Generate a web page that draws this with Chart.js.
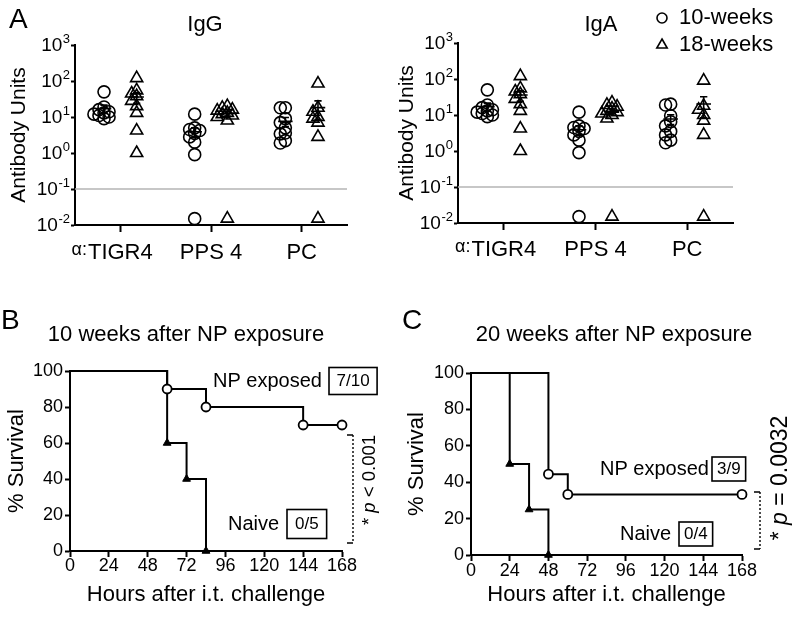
<!DOCTYPE html>
<html>
<head>
<meta charset="utf-8">
<script src="https://cdn.jsdelivr.net/npm/chart.js@4.4.0/dist/chart.umd.min.js"></script>
<style>
  body { margin: 0; background: #fff; width: 800px; height: 620px; position: relative; overflow: hidden; }
  canvas { position: absolute; }
</style>
</head>
<body>
<canvas id="igg" width="390" height="300" style="left:0;top:0"></canvas>
<canvas id="iga" width="410" height="300" style="left:390px;top:0"></canvas>
<canvas id="surv10" width="400" height="310" style="left:0;top:310px"></canvas>
<canvas id="surv20" width="400" height="310" style="left:400px;top:310px"></canvas>
<script>
const FONT = "'Liberation Sans', Arial, Helvetica, sans-serif"
Chart.defaults.font.family = FONT
Chart.defaults.color = '#000'

// ---- Panel A: antibody units per antigen ----
const categories = ['TIGR4', 'PPS 4', 'PC']
const yDecades = [0.01, 0.1, 1, 10, 100, 1000]
const yTickBase = '10'
const yTickExponents = ['-2', '-1', '0', '1', '2', '3']
const detectionLimit = 0.1

// one inner array per antigen (TIGR4, PPS 4, PC)
const iggWeek10 = [
    [50, 19, 16, 14, 13, 12, 11, 10, 9],
    [12, 5, 4.5, 4.2, 3.5, 2.8, 2, 0.9, 0.015],
    [18, 18, 9, 7, 5, 3.6, 3.4, 2.2, 1.9]
]
const iggWeek18 = [
    [120, 55, 45, 38, 28, 20, 13, 4.2, 1.0],
    [20, 18, 16, 15, 13, 12, 11, 10, 8, 0.015],
    [85, 18, 14, 10, 9, 7, 2.8, 0.015]
]
const igaWeek10 = [
    [50, 19, 16, 14, 13, 12, 11, 10, 9],
    [12, 5, 4.5, 4.2, 3.5, 2.8, 2, 0.9, 0.015],
    [20, 19, 9.5, 6.5, 5, 3.5, 2.8, 2.0, 1.7]
]
const igaWeek18 = [
    [120, 55, 45, 38, 28, 20, 13, 4.2, 1.0],
    [22, 19, 17, 15, 13, 12, 11, 10, 8, 0.015],
    [90, 18, 14, 10, 7, 2.8, 0.015]
]
const groupLabels = ['10-weeks', '18-weeks']

// ---- Panels B and C: survival after challenge ----
const hourStep = 24
const b10ExposedHours = [0, 60, 84, 144, 168]
const b10ExposedSurvival = [100, 90, 80, 70, 70]
const b10NaiveHours = [0, 60, 72, 84]
const b10NaiveSurvival = [100, 60, 40, 0]
const c20ExposedHours = [0, 48, 60, 168]
const c20ExposedSurvival = [100, 44.4, 33.3, 33.3]
const c20NaiveHours = [0, 24, 36, 48]
const c20NaiveSurvival = [100, 50, 25, 0]

// ---------------------------------------------------------------

function drawText(ctx, str, x, y, size, align, baseline, style) {
    ctx.font = (style || '') + ' ' + size + 'px ' + FONT
    ctx.textAlign = align || 'left'
    ctx.textBaseline = baseline || 'middle'
    ctx.fillStyle = '#000'
    ctx.fillText(str, x, y)
}

// spread points sideways (column scatter) so the markers do not sit on top of each other
function swarm(values, center) {
    const pxPerUnit = 90, pxPerDecade = 36, minDist = 5, step = 5
    const placed = []
    return values.map(v => {
        const ly = Math.log10(v) * pxPerDecade
        let best = 0, bestGap = -1
        for (const k of [0, -1, 1, -2, 2]) {
            const px = k * step
            const gap = Math.min(Infinity, ...placed.map(p => Math.hypot(p.px - px, p.ly - ly)))
            if (gap >= minDist) { best = px; break }
            if (gap > bestGap) { bestGap = gap; best = px }
        }
        placed.push({ px: best, ly: ly })
        return { x: center + best / pxPerUnit, y: v }
    })
}

function meanSem(values) {
    const n = values.length
    const mean = values.reduce((a, b) => a + b, 0) / n
    const sd = Math.sqrt(values.reduce((a, b) => a + (b - mean) ** 2, 0) / (n - 1))
    return { mean: mean, sem: sd / Math.sqrt(n) }
}

// mean line with SEM whiskers as one polyline
function meanBar(values, c) {
    const { mean, sem } = meanSem(values)
    const hi = mean + sem, lo = Math.max(mean - sem, 0.012)
    const w = 0.08, cap = 0.04
    return [
        { x: c - cap, y: hi }, { x: c + cap, y: hi }, { x: c, y: hi }, { x: c, y: lo },
        { x: c - cap, y: lo }, { x: c + cap, y: lo }, { x: c, y: lo }, { x: c, y: mean },
        { x: c - w, y: mean }, { x: c + w, y: mean }
    ]
}

function antibodyChart(id, title, week10, week18, lay) {
    const datasets = []
    const shift = 0.18
    week10.forEach((vals, i) => {
        datasets.push({
            label: groupLabels[0], data: swarm(vals, i + 0.5 - shift),
            pointStyle: 'circle', pointRadius: 6, borderColor: '#000', backgroundColor: 'rgba(0,0,0,0)',
            pointBorderWidth: 1.6, clip: false
        })
        datasets.push({
            data: meanBar(vals, i + 0.5 - shift), showLine: true, pointRadius: 0,
            borderColor: '#000', borderWidth: 1.6, clip: false
        })
    })
    week18.forEach((vals, i) => {
        datasets.push({
            label: groupLabels[1], data: swarm(vals, i + 0.5 + shift),
            pointStyle: 'triangle', pointRadius: 7, borderColor: '#000', backgroundColor: 'rgba(0,0,0,0)',
            pointBorderWidth: 1.6, clip: false
        })
        datasets.push({
            data: meanBar(vals, i + 0.5 + shift), showLine: true, pointRadius: 0,
            borderColor: '#000', borderWidth: 1.6, clip: false
        })
    })
    // limit of detection
    datasets.push({
        data: [{ x: 0, y: detectionLimit }, { x: categories.length, y: detectionLimit }],
        showLine: true, pointRadius: 0, borderColor: '#b4b4b4', borderWidth: 1.3
    })

    const annot = {
        id: 'annot',
        afterDraw(chart) {
            const { ctx, chartArea } = chart
            const x = chart.scales.x, y = chart.scales.y
            if (lay.letter) drawText(ctx, lay.letter, 9, 28, 28, 'left', 'alphabetic')
            drawText(ctx, title, lay.titleX, 25, 22, 'center')

            // y tick labels as 10 with a raised exponent
            const xr = chartArea.left - 5
            y.ticks.forEach((t, i) => {
                const py = y.getPixelForValue(t.value)
                ctx.font = '13px ' + FONT
                const ew = ctx.measureText(yTickExponents[i]).width
                drawText(ctx, yTickExponents[i], xr - ew, py - 6, 13, 'left')
                drawText(ctx, yTickBase, xr - ew - 0.5, py + 1, 19, 'right')
            })

            // "α:" prefix in front of the first antigen label
            ctx.font = '22px ' + FONT
            const w = ctx.measureText(categories[0]).width
            const left = x.getPixelForValue(0.5) - w / 2
            drawText(ctx, 'α:', left - 1, lay.labelY - 3, 18, 'right', 'middle')

            if (lay.legend) {
                ctx.strokeStyle = '#000'
                ctx.lineWidth = 1.6
                const lx = lay.legend.x
                ctx.beginPath()
                ctx.arc(lx, 18, 5, 0, Math.PI * 2)
                ctx.stroke()
                const r = 6, ty = 45
                ctx.beginPath()
                ctx.moveTo(lx, ty - r)
                ctx.lineTo(lx + r * 0.866, ty + r * 0.5)
                ctx.lineTo(lx - r * 0.866, ty + r * 0.5)
                ctx.closePath()
                ctx.stroke()
                drawText(ctx, groupLabels[0], lx + 17, 18, 22, 'left')
                drawText(ctx, groupLabels[1], lx + 17, 45, 22, 'left')
            }
        }
    }

    new Chart(document.getElementById(id), {
        type: 'scatter',
        data: { datasets: datasets },
        options: {
            responsive: false,
            animation: false,
            layout: { padding: { left: 0, right: lay.padRight, top: lay.top, bottom: 0 } },
            plugins: { legend: { display: false }, tooltip: { enabled: false } },
            scales: {
                x: {
                    type: 'linear', min: 0, max: categories.length,
                    afterBuildTicks: s => { s.ticks = categories.map((c, i) => ({ value: i + 0.5 })) },
                    afterFit: s => { s.height = lay.xHeight },
                    ticks: {
                        font: { size: 22, lineHeight: 1 }, padding: lay.xPad, maxRotation: 0,
                        callback: (v) => categories[Math.floor(v)]
                    },
                    grid: { drawOnChartArea: false, tickLength: 7, tickWidth: 2, tickColor: '#000' },
                    border: { color: '#000', width: 2 }
                },
                y: {
                    type: 'logarithmic', min: yDecades[0], max: yDecades[yDecades.length - 1],
                    afterBuildTicks: s => { s.ticks = yDecades.map(v => ({ value: v })) },
                    afterFit: s => { s.width = lay.yWidth },
                    ticks: { display: false },
                    grid: { drawOnChartArea: false, tickLength: 4, tickWidth: 2, tickColor: '#000' },
                    border: { color: '#000', width: 2 },
                    title: { display: true, text: 'Antibody Units', font: { size: 21 }, padding: { top: lay.yTitlePad, bottom: 0 } }
                }
            }
        },
        plugins: [annot]
    })
}

function survivalChart(id, exposed, naive, lay) {
    const pts = (h, s) => h.map((t, i) => ({ x: t, y: s[i] }))
    const notes = {
        id: 'notes',
        afterDraw(chart) {
            const { ctx } = chart
            drawText(ctx, lay.letter, lay.letterX, 19, 28, 'left', 'alphabetic')
            drawText(ctx, lay.title, lay.titleX, 25, 22, 'center')

            ctx.strokeStyle = '#000'
            ctx.lineWidth = 1.6
            lay.boxes.forEach(b => {
                drawText(ctx, b.name, b.x, b.y, b.size, 'left')
                ctx.font = '17px ' + FONT
                const w = ctx.measureText(b.count).width + 2 * b.pad
                ctx.strokeRect(b.bx, b.y - b.h / 2, w, b.h)
                drawText(ctx, b.count, b.bx + w / 2, b.y + 0.5, 17, 'center')
            })

            // significance bracket
            const br = lay.bracket
            ctx.lineWidth = 1.4
            ctx.setLineDash([2, 2])
            ctx.beginPath()
            ctx.moveTo(br.x, br.top)
            ctx.lineTo(br.x, br.bottom)
            ctx.stroke()
            ctx.setLineDash([])
            ctx.beginPath()
            ctx.moveTo(br.x - 6, br.top); ctx.lineTo(br.x, br.top)
            ctx.moveTo(br.x - 6, br.bottom); ctx.lineTo(br.x, br.bottom)
            ctx.stroke()

            // rotated p value
            ctx.save()
            ctx.translate(lay.pX, lay.pY)
            ctx.rotate(-Math.PI / 2)
            const parts = [['* ', ''], ['p', 'italic'], [lay.pText, '']]
            let total = 0
            parts.forEach(p => { ctx.font = p[1] + ' ' + lay.pSize + 'px ' + FONT; total += ctx.measureText(p[0]).width })
            let cx = -total / 2
            parts.forEach(p => {
                drawText(ctx, p[0], cx, 0, lay.pSize, 'left', 'middle', p[1])
                cx += ctx.measureText(p[0]).width
            })
            ctx.restore()
        }
    }

    new Chart(document.getElementById(id), {
        type: 'scatter',
        data: {
            datasets: [
                {
                    label: 'NP exposed', data: pts(exposed[0], exposed[1]), showLine: true, stepped: true,
                    borderColor: '#000', borderWidth: 2, pointStyle: 'circle',
                    pointRadius: c => c.dataIndex === 0 ? 0 : 4.5,
                    pointBackgroundColor: '#fff', pointBorderColor: '#000', pointBorderWidth: 1.8, clip: false
                },
                {
                    label: 'Naive', data: pts(naive[0], naive[1]), showLine: true, stepped: true,
                    borderColor: '#000', borderWidth: 2, pointStyle: 'triangle',
                    pointRadius: c => c.dataIndex === 0 ? 0 : 4.5,
                    pointBackgroundColor: '#000', pointBorderColor: '#000', pointBorderWidth: 1, clip: false
                }
            ]
        },
        options: {
            responsive: false,
            animation: false,
            layout: { padding: { left: 0, right: lay.padRight, top: lay.top, bottom: 0 } },
            plugins: { legend: { display: false }, tooltip: { enabled: false } },
            scales: {
                x: {
                    type: 'linear', min: 0, max: 168,
                    afterFit: s => { s.height = lay.xHeight },
                    ticks: { stepSize: hourStep, font: { size: 18, lineHeight: 1 }, padding: lay.xPad, maxRotation: 0 },
                    grid: { drawOnChartArea: false, tickLength: 6, tickWidth: 2, tickColor: '#000' },
                    border: { color: '#000', width: 2 },
                    title: { display: true, text: 'Hours after i.t. challenge', font: { size: 22 }, padding: { top: 0, bottom: 12 } }
                },
                y: {
                    type: 'linear', min: 0, max: 100,
                    afterFit: s => { s.width = lay.yWidth },
                    ticks: { stepSize: 20, font: { size: 18, lineHeight: 1 }, padding: 2 },
                    grid: { drawOnChartArea: false, tickLength: 5, tickWidth: 2, tickColor: '#000' },
                    border: { color: '#000', width: 2 },
                    title: { display: true, text: '% Survival', font: { size: 22 }, padding: { top: 4, bottom: 0 } }
                }
            }
        },
        plugins: [notes]
    })
}

antibodyChart('igg', 'IgG', iggWeek10, iggWeek18, {
    letter: 'A', titleX: 205, top: 45, padRight: 43, yWidth: 75, xHeight: 75,
    xPad: 10, labelY: 253, yTitlePad: 7
})
antibodyChart('iga', 'IgA', igaWeek10, igaWeek18, {
    titleX: 211, top: 43, padRight: 67, yWidth: 68, xHeight: 77,
    xPad: 9, labelY: 250, yTitlePad: 5, legend: { x: 272 }
})

survivalChart('surv10', [b10ExposedHours, b10ExposedSurvival], [b10NaiveHours, b10NaiveSurvival], {
    letter: 'B', letterX: 1, title: '10 weeks after NP exposure', titleX: 186,
    top: 61, padRight: 58, yWidth: 70, xHeight: 69, xPad: 0,
    boxes: [
        { name: 'NP exposed', count: '7/10', x: 213, y: 71, size: 20, bx: 329, pad: 7.5, h: 27 },
        { name: 'Naive', count: '0/5', x: 228, y: 214, size: 20, bx: 287, pad: 8, h: 29 }
    ],
    bracket: { x: 353, top: 125, bottom: 233 },
    pX: 370, pY: 170, pSize: 18.5, pText: ' < 0.001'
})
survivalChart('surv20', [c20ExposedHours, c20ExposedSurvival], [c20NaiveHours, c20NaiveSurvival], {
    letter: 'C', letterX: 2, title: '20 weeks after NP exposure', titleX: 214,
    top: 63, padRight: 58, yWidth: 71, xHeight: 65, xPad: 1,
    boxes: [
        { name: 'NP exposed', count: '3/9', x: 200, y: 159, size: 20, bx: 312, pad: 5, h: 24 },
        { name: 'Naive', count: '0/4', x: 220, y: 224, size: 20, bx: 279, pad: 5, h: 24 }
    ],
    bracket: { x: 360, top: 182, bottom: 239 },
    pX: 381, pY: 168, pSize: 23, pText: ' = 0.0032'
})
</script>
</body>
</html>
